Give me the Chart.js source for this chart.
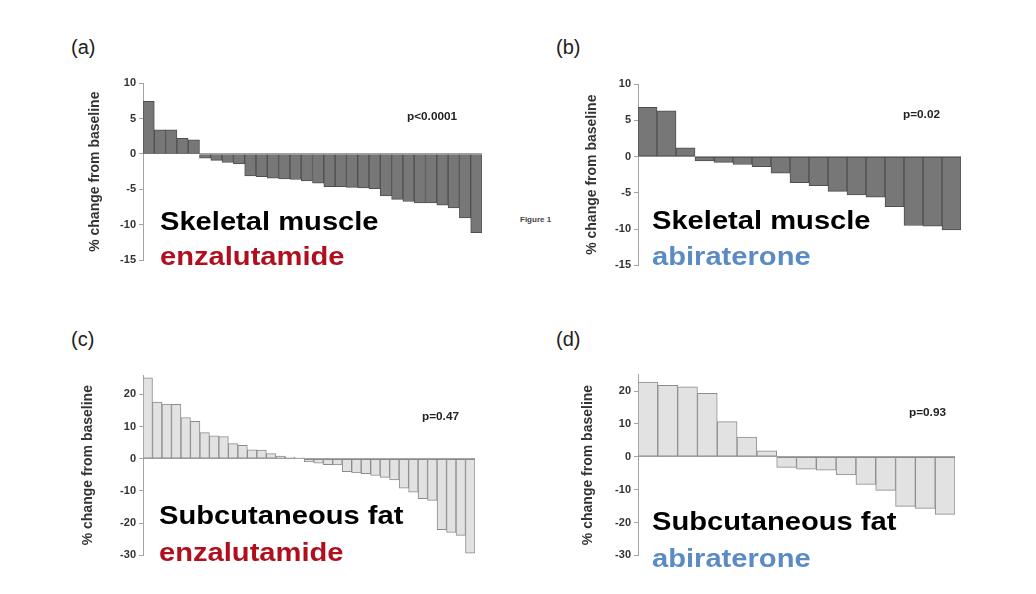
<!DOCTYPE html>
<html>
<head>
<meta charset="utf-8">
<script src="https://cdn.jsdelivr.net/npm/chart.js@4.4.0/dist/chart.umd.min.js"></script>
<style>
  html, body { margin: 0; padding: 0; background: #fff; }
  body { width: 1036px; height: 594px; position: relative; overflow: hidden; font-family: "Liberation Sans", Arial, sans-serif; }
  canvas { position: absolute; }
  .lbl { position: absolute; white-space: nowrap; line-height: 1.2; transform-origin: 0 0; }
</style>
</head>
<body>
<canvas id="chartA" width="420" height="200" style="left:80px;top:70px"></canvas>
<canvas id="chartB" width="400" height="205" style="left:575px;top:70px"></canvas>
<canvas id="chartC" width="420" height="200" style="left:75px;top:365px"></canvas>
<canvas id="chartD" width="400" height="200" style="left:575px;top:365px"></canvas>

<script>
// % change from baseline, one value per patient, sorted as in the figure
const muscleEnza = [7.4, 3.4, 3.4, 2.2, 2.0, -0.6, -0.9, -1.2, -1.4, -3.1,
                    -3.2, -3.4, -3.5, -3.6, -3.8, -4.1, -4.6, -4.6, -4.7, -4.8,
                    -4.9, -5.9, -6.4, -6.7, -6.9, -6.9, -7.2, -7.6, -9.0, -11.1];
const muscleAbi = [6.8, 6.3, 1.2, -0.6, -0.8, -1.1, -1.4, -2.3, -3.6, -4.0,
                   -4.8, -5.3, -5.6, -6.9, -9.5, -9.6, -10.1];
const fatEnza = [25.1, 17.6, 17.0, 16.9, 12.8, 11.6, 8.1, 7.1, 6.9, 4.7,
                 4.2, 2.8, 2.7, 1.6, 0.8, 0.5, 0.3, -1.0, -1.4, -1.8,
                 -1.9, -4.0, -4.4, -4.6, -5.2, -5.8, -6.6, -9.1, -10.4, -12.4,
                 -12.9, -22.0, -22.9, -23.8, -29.3];
const fatAbi = [22.7, 21.7, 21.3, 19.3, 10.7, 6.0, 1.8, -3.2, -3.8, -4.1,
                -5.5, -8.4, -10.2, -15.1, -15.7, -17.5];

const muscleTicks = [10, 5, 0, -5, -10, -15];
const fatTicks = [20, 10, 0, -10, -20, -30];

const FONT = '"Liberation Sans", Arial, sans-serif';
const AXIS_GRAY = '#a3a3a3';

function waterfall(id, values, ticks, opts) {
    const ctx = document.getElementById(id);
    return new Chart(ctx, {
        type: 'bar',
        data: {
            labels: values.map((v, i) => i + 1),
            datasets: [{
                data: values,
                backgroundColor: opts.fill,
                borderColor: opts.edge,
                borderWidth: 1,
                borderSkipped: false,
                barPercentage: 1,
                categoryPercentage: 1
            }]
        },
        options: {
            responsive: false,
            animation: false,
            devicePixelRatio: 1,
            layout: { padding: opts.padding },
            plugins: { legend: { display: false }, tooltip: { enabled: false } },
            scales: {
                x: { display: false },
                y: {
                    min: ticks[ticks.length - 1],
                    max: opts.max,
                    afterBuildTicks: (scale) => { scale.ticks = ticks.map(v => ({ value: v })); },
                    afterFit: (scale) => { scale.width = opts.axisWidth; },
                    ticks: {
                        color: '#333',
                        padding: 3,
                        font: { family: FONT, size: 11, weight: 'bold' }
                    },
                    grid: {
                        color: (c) => (c.tick && c.tick.value === 0) ? AXIS_GRAY : 'rgba(0,0,0,0)',
                        tickColor: AXIS_GRAY,
                        tickLength: 4
                    },
                    border: { color: AXIS_GRAY },
                    title: {
                        display: true,
                        text: '% change from baseline',
                        color: '#333',
                        padding: { top: opts.titlePad, bottom: 0 },
                        font: { family: FONT, size: 14, weight: 'bold' }
                    }
                }
            }
        }
    });
}

const dark = { fill: '#777777', edge: '#4f4f4f' };
const light = { fill: '#e2e2e2', edge: '#8c8c8c' };

waterfall('chartA', muscleEnza, muscleTicks, { ...dark, max: 10, axisWidth: 63, titlePad: 7,
    padding: { top: 13, bottom: 9, left: 0, right: 18 } });
waterfall('chartB', muscleAbi, muscleTicks, { ...dark, max: 10, axisWidth: 63, titlePad: 9,
    padding: { top: 14, bottom: 8, left: 0, right: 14 } });
waterfall('chartC', fatEnza, fatTicks, { ...light, max: 26, axisWidth: 68, titlePad: 5,
    padding: { top: 10, bottom: 7, left: 0, right: 20 } });
waterfall('chartD', fatAbi, fatTicks, { ...light, max: 25, axisWidth: 63, titlePad: 5,
    padding: { top: 8, bottom: 8, left: 0, right: 20 } });

// text placed by its baseline
function label(text, x, baseline, size, weight, color, sx) {
    const d = document.createElement('div');
    d.className = 'lbl';
    d.textContent = text;
    d.style.left = x + 'px';
    d.style.top = (baseline - 0.9465 * size) + 'px';
    d.style.fontSize = size + 'px';
    d.style.fontWeight = weight;
    d.style.color = color;
    if (sx) d.style.transform = 'scaleX(' + sx + ')';
    document.body.appendChild(d);
}

const RED = '#b0101e';
const BLUE = '#5b8bc5';

label('(a)', 71, 54, 20, 'normal', '#222');
label('(b)', 556, 54, 20, 'normal', '#222');
label('(c)', 71, 346, 20, 'normal', '#222');
label('(d)', 556, 346, 20, 'normal', '#222');

label('p<0.0001', 407, 120, 11, 'bold', '#222', 1.07);
label('p=0.02', 903, 118, 11, 'bold', '#222', 1.07);
label('p=0.47', 422, 420, 11, 'bold', '#222', 1.07);
label('p=0.93', 909, 416, 11, 'bold', '#222', 1.07);

label('Figure 1', 520, 223, 8, 'bold', '#444');

label('Skeletal muscle', 160, 230, 25, 'bold', '#000', 1.165);
label('enzalutamide', 160, 265, 25, 'bold', RED, 1.165);
label('Skeletal muscle', 652, 229, 25, 'bold', '#000', 1.165);
label('abiraterone', 652, 265, 25, 'bold', BLUE, 1.165);
label('Subcutaneous fat', 159, 524, 25, 'bold', '#000', 1.165);
label('enzalutamide', 159, 561, 25, 'bold', RED, 1.165);
label('Subcutaneous fat', 652, 530, 25, 'bold', '#000', 1.165);
label('abiraterone', 652, 567, 25, 'bold', BLUE, 1.165);
</script>
</body>
</html>
